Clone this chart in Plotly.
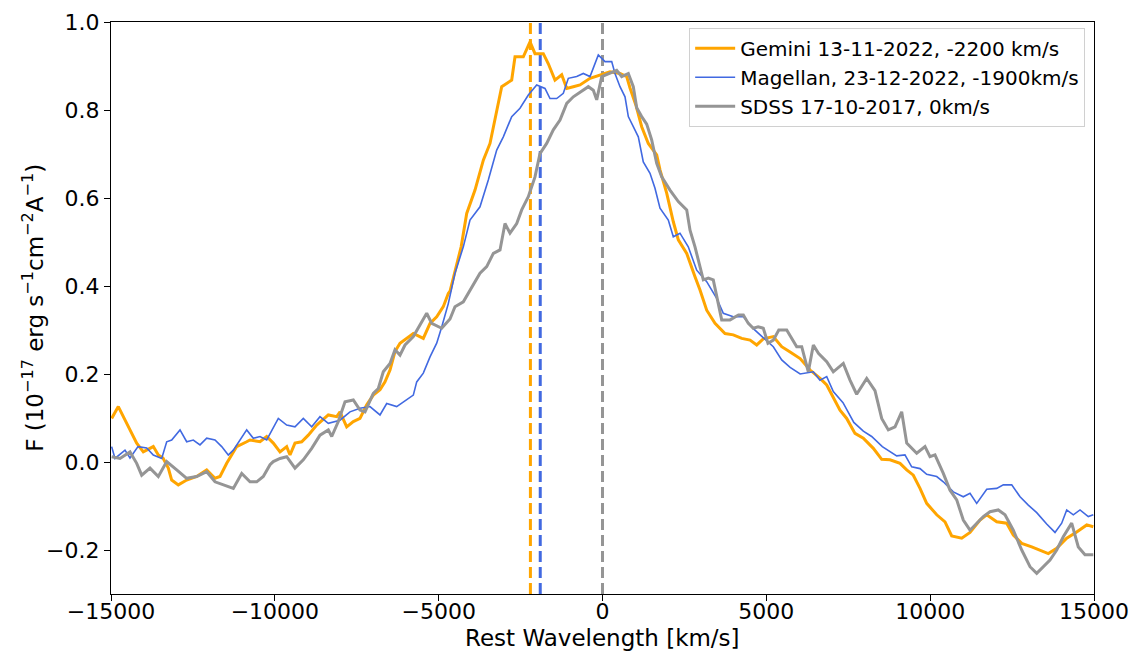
import plotly.graph_objects as go

# ---------------- data ----------------
gemini_v = [-14980, -14777, -14420, -14216, -14014, -13709, -13556, -13413, -13251, -13148,
            -12946, -12690, -12385, -12079, -11826, -11673, -11469, -11164, -10859, -10758,
            -10453, -10248, -10047, -9842, -9638, -9537, -9385, -9180, -8979, -8722,
            -8368, -8112, -8011, -7807, -7605, -7401, -7196, -6995, -6790, -6638,
            -6485, -6333, -6180, -5976, -5774, -5469, -5264, -5060, -4859, -4706,
            -4654, -4314, -4144, -3891, -3637, -3433, -3229, -3076, -2771, -2670,
            -2417, -2212, -2060, -1806, -1653, -1450, -1245, -1092, -891, -686,
            -381, -76, 229, 534, 738, 840, 1023, 1196, 1398, 1654,
            1755, 1959, 2161, 2314, 2570, 2823, 2976, 3180, 3434, 3739,
            3992, 4249, 4503, 4707, 4907, 5213, 5469, 5726, 6031, 6336,
            6641, 6843, 7044, 7248, 7452, 7706, 7960, 8265, 8521, 8774,
            9080, 9284, 9486, 9690, 9894, 10200, 10453, 10657, 10963, 11216,
            11521, 11726, 12031, 12336, 12537, 12794, 13099, 13352, 13606, 13862,
            14167, 14472, 14778, 14979]
gemini_f = [0.099, 0.126, 0.073, 0.043, 0.023, 0.035, 0.016, 0.009, -0.014, -0.041,
            -0.052, -0.041, -0.033, -0.018, -0.037, -0.033, -0.003, 0.035, 0.046, 0.050,
            0.046, 0.058, 0.043, 0.023, 0.035, 0.016, 0.043, 0.046, 0.061, 0.084,
            0.107, 0.103, 0.114, 0.080, 0.092, 0.099, 0.130, 0.152, 0.164, 0.182,
            0.209, 0.251, 0.270, 0.281, 0.292, 0.281, 0.315, 0.330, 0.353, 0.383,
            0.388, 0.489, 0.565, 0.618, 0.686, 0.724, 0.800, 0.853, 0.868, 0.921,
            0.921, 0.955, 0.928, 0.928, 0.905, 0.868, 0.880, 0.849, 0.853, 0.857,
            0.872, 0.880, 0.887, 0.883, 0.876, 0.850, 0.810, 0.762, 0.724, 0.698,
            0.664, 0.611, 0.546, 0.505, 0.474, 0.421, 0.391, 0.345, 0.315, 0.292,
            0.289, 0.281, 0.277, 0.266, 0.280, 0.285, 0.262, 0.250, 0.235, 0.209,
            0.190, 0.175, 0.148, 0.118, 0.099, 0.065, 0.054, 0.031, 0.006, 0.005,
            -0.003, -0.018, -0.030, -0.060, -0.094, -0.120, -0.136, -0.168, -0.173, -0.160,
            -0.132, -0.120, -0.136, -0.139, -0.166, -0.185, -0.193, -0.200, -0.208, -0.196,
            -0.173, -0.159, -0.143, -0.147]

magellan_v = [-14980, -14878, -14573, -14420, -14176, -13910, -13709, -13453, -13300, -13148,
              -12894, -12690, -12488, -12284, -12079, -11826, -11622, -11420, -11267, -11063,
              -10859, -10657, -10453, -10248, -10147, -9894, -9638, -9385, -9131, -8875,
              -8622, -8368, -8011, -7706, -7401, -7096, -6790, -6586, -6281, -5976,
              -5774, -5670, -5469, -5264, -5060, -4907, -4706, -4502, -4248, -4044,
              -3739, -3485, -3229, -3027, -2771, -2518, -2264, -2008, -1755, -1602,
              -1398, -1196, -1043, -787, -586, -381, -128, 76, 281, 381,
              534, 687, 788, 940, 1093, 1245, 1450, 1602, 1755, 2008,
              2161, 2365, 2618, 2875, 3180, 3485, 3687, 3992, 4298, 4603,
              4907, 5213, 5469, 5726, 6031, 6433, 6637, 6843, 7044, 7340,
              7670, 7960, 8214, 8540, 8978, 9231, 9436, 9690, 9894, 10200,
              10401, 10706, 11011, 11216, 11420, 11726, 12031, 12233, 12489, 12743,
              12995, 13252, 13556, 13810, 14014, 14167, 14369, 14573, 14826, 14979]
magellan_f = [0.035, 0.008, 0.027, 0.009, 0.035, 0.032, 0.016, 0.008, 0.046, 0.050,
              0.073, 0.046, 0.050, 0.039, 0.054, 0.050, 0.035, 0.016, 0.027, 0.050,
              0.073, 0.054, 0.058, 0.050, 0.065, 0.099, 0.084, 0.080, 0.099, 0.080,
              0.103, 0.088, 0.095, 0.114, 0.122, 0.126, 0.107, 0.133, 0.126, 0.141,
              0.152, 0.182, 0.202, 0.239, 0.270, 0.307, 0.360, 0.429, 0.489, 0.550,
              0.580, 0.641, 0.709, 0.739, 0.785, 0.804, 0.834, 0.857, 0.849, 0.826,
              0.826, 0.838, 0.872, 0.876, 0.883, 0.876, 0.925, 0.910, 0.910, 0.883,
              0.853, 0.830, 0.785, 0.762, 0.739, 0.682, 0.656, 0.622, 0.577, 0.550,
              0.512, 0.520, 0.489, 0.436, 0.410, 0.372, 0.338, 0.330, 0.330, 0.303,
              0.283, 0.262, 0.232, 0.215, 0.200, 0.205, 0.186, 0.194, 0.160, 0.135,
              0.090, 0.070, 0.058, 0.035, 0.014, 0.016, -0.011, -0.015, -0.028, -0.033,
              -0.045, -0.068, -0.079, -0.071, -0.094, -0.062, -0.060, -0.052, -0.052, -0.079,
              -0.098, -0.115, -0.141, -0.160, -0.139, -0.109, -0.120, -0.109, -0.124, -0.120]

sdss_v = [-14980, -14725, -14420, -14216, -14063, -13810, -13556, -13300, -12995, -12690,
          -12385, -12079, -11826, -11573, -11267, -11011, -10758, -10553, -10352, -10147,
          -10047, -9842, -9638, -9385, -9131, -8875, -8622, -8368, -8264, -8063,
          -7858, -7605, -7401, -7248, -6995, -6842, -6690, -6485, -6333, -6180,
          -6027, -5774, -5570, -5365, -5212, -4907, -4654, -4502, -4248, -3992,
          -3739, -3534, -3331, -3128, -2976, -2823, -2618, -2466, -2264, -2060,
          -1908, -1704, -1501, -1297, -1092, -891, -635, -432, -280, -177,
          -24, 229, 433, 586, 788, 940, 1043, 1196, 1349, 1501,
          1654, 1807, 2060, 2314, 2570, 2671, 2823, 3076, 3230, 3381,
          3500, 3638, 3892, 4150, 4298, 4450, 4603, 4750, 4907, 5050,
          5213, 5380, 5622, 5780, 5927, 6080, 6281, 6435, 6590, 6843,
          7044, 7349, 7553, 7757, 8063, 8316, 8521, 8723, 8928, 9131,
          9284, 9589, 9842, 9995, 10147, 10401, 10605, 10810, 11011, 11216,
          11420, 11622, 11826, 12079, 12284, 12537, 12794, 13047, 13252, 13453,
          13657, 13862, 14063, 14319, 14521, 14725, 14979]
sdss_f = [0.012, 0.008, 0.023, -0.003, -0.030, -0.014, -0.033, 0.001, -0.018, -0.037,
          -0.033, -0.022, -0.045, -0.052, -0.060, -0.026, -0.045, -0.045, -0.033, -0.006,
          0.001, 0.008, 0.012, -0.014, 0.005, 0.031, 0.061, 0.073, 0.058, 0.092,
          0.137, 0.141, 0.118, 0.114, 0.156, 0.167, 0.205, 0.224, 0.255, 0.243,
          0.266, 0.285, 0.311, 0.338, 0.315, 0.304, 0.325, 0.353, 0.364, 0.398,
          0.429, 0.444, 0.474, 0.482, 0.542, 0.520, 0.542, 0.573, 0.603, 0.648,
          0.701, 0.724, 0.755, 0.777, 0.815, 0.830, 0.842, 0.853, 0.845, 0.823,
          0.876, 0.883, 0.890, 0.876, 0.883, 0.853, 0.805, 0.785, 0.768, 0.732,
          0.679, 0.648, 0.618, 0.592, 0.573, 0.527, 0.489, 0.414, 0.418, 0.414,
          0.372, 0.323, 0.323, 0.334, 0.334, 0.315, 0.304, 0.307, 0.304, 0.270,
          0.277, 0.300, 0.300, 0.281, 0.262, 0.262, 0.205, 0.266, 0.247, 0.228,
          0.205, 0.224, 0.186, 0.154, 0.190, 0.162, 0.099, 0.073, 0.080, 0.114,
          0.043, 0.020, 0.035, 0.012, 0.016, -0.026, -0.064, -0.086, -0.132, -0.155,
          -0.139, -0.124, -0.113, -0.109, -0.120, -0.155, -0.200, -0.238, -0.253, -0.238,
          -0.223, -0.200, -0.170, -0.139, -0.193, -0.211, -0.211]

series_names = ["Gemini 13-11-2022, -2200 km/s",
                "Magellan, 23-12-2022, -1900km/s",
                "SDSS 17-10-2017, 0km/s"]
shift_velocities = [-2200, -1900, 0]

x_title = "Rest Wavelength [km/s]"
y_title = "F (10<sup>\u221217</sup> erg s<sup>\u22121</sup>cm<sup>\u22122</sup>A<sup>\u22121</sup>)"
x_tickvals = [-15000, -10000, -5000, 0, 5000, 10000, 15000]
x_ticktext = ["\u221215000", "\u221210000", "\u22125000", "0", "5000", "10000", "15000"]
y_tickvals = [-0.2, 0.0, 0.2, 0.4, 0.6, 0.8, 1.0]
y_ticktext = ["\u22120.2", "0.0", "0.2", "0.4", "0.6", "0.8", "1.0"]

# ---------------- styles ----------------
C_ORANGE = "#FFA500"
C_BLUE = "#4169E1"
C_GRAY = "#959595"
FONT = "DejaVu Sans"

fig = go.Figure()

# dashed velocity markers
for v, c in zip(shift_velocities, [C_ORANGE, C_BLUE, C_GRAY]):
    fig.add_shape(type="line", x0=v, x1=v, y0=0, y1=1, xref="x", yref="paper",
                  line=dict(color=c, width=3, dash="11px,5px"), layer="below")

fig.add_trace(go.Scatter(x=gemini_v, y=gemini_f, mode="lines", name=series_names[0],
                         line=dict(color=C_ORANGE, width=3)))
fig.add_trace(go.Scatter(x=magellan_v, y=magellan_f, mode="lines", name=series_names[1],
                         line=dict(color=C_BLUE, width=1.6)))
fig.add_trace(go.Scatter(x=sdss_v, y=sdss_f, mode="lines", name=series_names[2],
                         line=dict(color=C_GRAY, width=3)))

axis_common = dict(showgrid=False, zeroline=False, showline=True, linecolor="black",
                   linewidth=1.3, mirror=True, ticks="outside", ticklen=6, tickwidth=1.2,
                   tickcolor="black", tickfont=dict(family=FONT, size=22, color="black"),
                   automargin=False)

fig.update_xaxes(range=[-15000, 15000], tickvals=x_tickvals, ticktext=x_ticktext,
                 ticklabelstandoff=-9, **axis_common)
fig.update_yaxes(range=[-0.3, 1.0], tickvals=y_tickvals, ticktext=y_ticktext,
                 **axis_common)

# axis titles placed as annotations
fig.add_annotation(text=x_title, xref="paper", yref="paper", x=0.5, y=-0.0765,
                   xanchor="center", yanchor="middle", showarrow=False,
                   font=dict(family=FONT, size=23, color="black"))
fig.add_annotation(text=y_title, xref="paper", yref="paper", x=-0.0795, y=0.5,
                   xanchor="center", yanchor="middle", showarrow=False, textangle=-90,
                   font=dict(family=FONT, size=23, color="black"))

fig.update_layout(
    width=1138, height=654,
    margin=dict(l=111, r=44, t=22, b=60),
    paper_bgcolor="white", plot_bgcolor="white",
    font=dict(family=FONT, color="black"),
    legend=dict(x=0.991, y=0.99, xanchor="right", yanchor="top",
                bgcolor="rgba(255,255,255,0.9)", bordercolor="#d0d0d0", borderwidth=1,
                font=dict(family=FONT, size=20, color="black"), tracegroupgap=0,
                itemwidth=40),
    showlegend=True,
)

fig.write_html("out.html")
